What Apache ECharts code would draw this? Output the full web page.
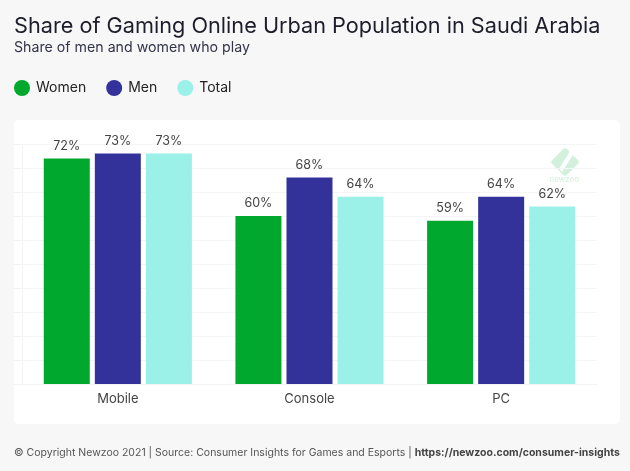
<!DOCTYPE html>
<html>
<head>
<meta charset="utf-8">
<style>
html, body { margin: 0; padding: 0; background: #f7f7f7; }
#chart { width: 630px; height: 471px; }
</style>
<script src="https://cdn.jsdelivr.net/npm/echarts@6/dist/echarts.min.js"></script>
</head>
<body>
<div id="chart"></div>
<script>
const categories = ['Mobile', 'Console', 'PC'];
const women = [72, 60, 59];
const men = [73, 68, 64];
const total = [73, 64, 62];
const yTicks = { min: 25, max: 75, interval: 5 };
const fontName = 'Inter';

const makeSeries = (name, data, color) => ({
    name: name,
    type: 'bar',
    data: data,
    barWidth: 46,
    barGap: '11%',
    itemStyle: { color: color },
    label: {
        show: true,
        position: 'top',
        distance: 6,
        formatter: '{c}%',
        color: '#444',
        fontSize: 12.5,
        fontFamily: fontName
    }
});

const myChart = echarts.init(document.getElementById('chart'), null, { renderer: 'canvas' });
myChart.setOption({
    backgroundColor: '#f7f7f7',
    animation: false,
    textStyle: { fontFamily: fontName },
    title: [
        {
            text: 'Share of Gaming Online Urban Population in Saudi Arabia',
            left: 14,
            top: 15,
            padding: 0,
            textStyle: { fontSize: 21.7, fontWeight: 'normal', color: '#1d1d2b', fontFamily: fontName }
        },
        {
            text: 'Share of men and women who play',
            left: 14,
            top: 41,
            padding: 0,
            textStyle: { fontSize: 14.2, fontWeight: 'normal', color: '#33334a', fontFamily: fontName }
        }
    ],
    legend: {
        left: 14,
        top: 80,
        padding: 0,
        icon: 'circle',
        itemWidth: 16,
        itemHeight: 16,
        itemGap: 20,
        textStyle: { fontSize: 14, color: '#222', fontFamily: fontName, padding: [0, 0, 0, 1] },
        data: ['Women', 'Men', 'Total']
    },
    grid: { left: 22, right: 33, top: 144, bottom: 87 },
    xAxis: {
        type: 'category',
        data: categories,
        axisTick: { show: false },
        axisLine: { show: true, lineStyle: { color: '#f3f3f3' } },
        axisLabel: { color: '#444', fontSize: 13, margin: 9, fontFamily: fontName }
    },
    yAxis: {
        type: 'value',
        min: yTicks.min,
        max: yTicks.max,
        interval: yTicks.interval,
        axisLabel: { show: false },
        axisLine: { show: true, lineStyle: { color: '#f3f3f3' } },
        axisTick: { show: true, length: 8, lineStyle: { color: '#f3f3f3' } },
        splitLine: { lineStyle: { color: '#f5f5f5' } }
    },
    series: [
        makeSeries('Women', women, '#00a82d'),
        makeSeries('Men', men, '#32329a'),
        makeSeries('Total', total, '#9bf0e8')
    ],
    graphic: [
        // white panel behind the plot
        {
            type: 'rect',
            z: -10,
            shape: { x: 14, y: 120, width: 606, height: 304, r: 5 },
            style: { fill: '#fff' }
        },
        // faint logo
        {
            type: 'rect',
            z: -5,
            rotation: Math.PI / 4,
            x: 565,
            y: 162,
            shape: { x: -10.5, y: -10.5, width: 21, height: 21, r: 3 },
            style: { fill: '#d3f0dc' }
        },
        {
            type: 'polygon',
            z: -4,
            shape: { points: [[559, 169], [570, 151], [573, 155], [562, 172]] },
            style: { fill: '#fbfefc' }
        },
        {
            type: 'text',
            z: -5,
            x: 549.5,
            y: 176,
            style: { text: 'newzoo', fill: '#d3f0dc', font: '8px ' + fontName }
        },
        // footer
        {
            type: 'text',
            x: 14,
            y: 447,
            style: {
                text: '© Copyright Newzoo 2021 | Source: Consumer Insights for Games and Esports | {b|https://newzoo.com/consumer-insights}',
                fill: '#555',
                font: '10.5px ' + fontName,
                rich: {
                    b: { fontWeight: 'bold', fontSize: 10.5, fill: '#444', fontFamily: fontName }
                }
            }
        }
    ]
});
</script>
</body>
</html>
